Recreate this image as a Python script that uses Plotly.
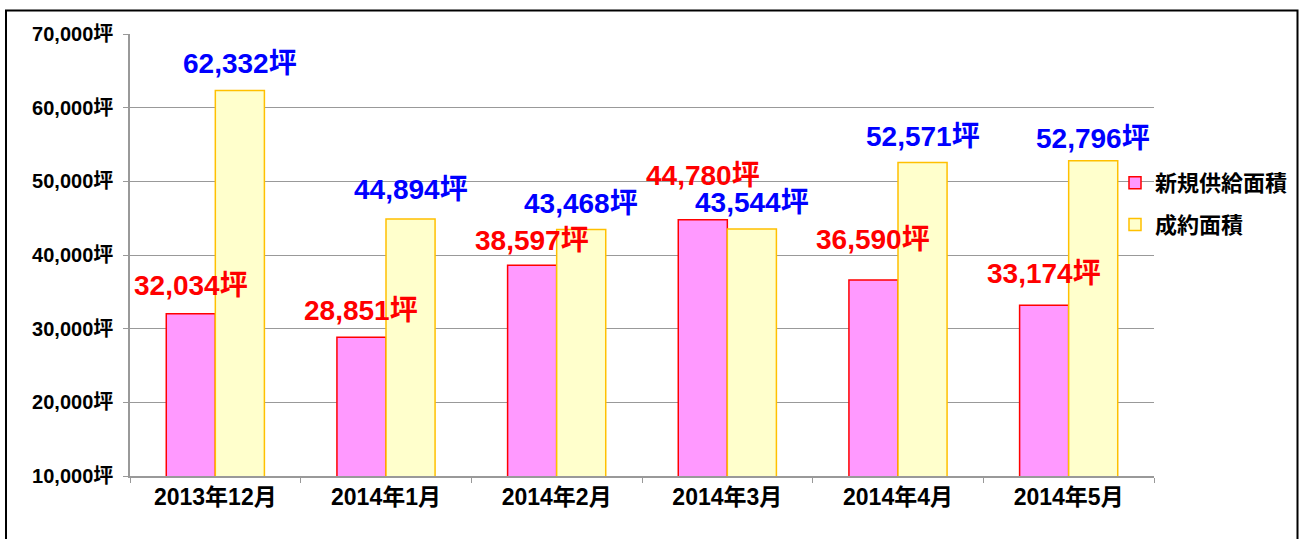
import plotly.graph_objects as go

categories = ["2013年12月", "2014年1月", "2014年2月", "2014年3月", "2014年4月", "2014年5月"]
supply_area = [32034, 28851, 38597, 44780, 36590, 33174]
contract_area = [62332, 44894, 43468, 43544, 52571, 52796]
series_names = ["新規供給面積", "成約面積"]
y_ticks = [10000, 20000, 30000, 40000, 50000, 60000, 70000]
y_tick_labels = ["10,000坪", "20,000坪", "30,000坪", "40,000坪", "50,000坪", "60,000坪", "70,000坪"]

# label lift above bar tops (pixels) – layout only
supply_label_lift = [28, 27, 25, 44, 41, 32]
contract_label_lift = [27, 29, 26, 26, 26, 22]

FONT = "Liberation Sans, Arial, Noto Sans CJK JP"

W, H = 1302, 539
L, R, T, B = 130, 1154, 34, 476
pw, ph = R - L, B - T

fig = go.Figure()
fig.add_trace(go.Bar(
    x=categories, y=supply_area, name=series_names[0], legendgroup="a",
    marker=dict(color="#FF99FF", line=dict(color="#FF0000", width=1.5)),
))
fig.add_trace(go.Bar(
    x=categories, y=contract_area, name=series_names[1], legendgroup="b",
    marker=dict(color="#FFFFCC", line=dict(color="#FFC000", width=1.5)),
))

bargap = 0.425
bar_w = (pw / len(categories)) * (1 - bargap) / 2
annotations = []
for c, v, lift in zip(categories, supply_area, supply_label_lift):
    annotations.append(dict(x=c, y=v, xref="x", yref="y", text=f"{v:,}坪", showarrow=False,
                            xshift=-bar_w / 2, yshift=lift, yanchor="middle",
                            font=dict(family=FONT, size=28, color="#FF0000", weight="bold")))
for c, v, lift in zip(categories, contract_area, contract_label_lift):
    annotations.append(dict(x=c, y=v, xref="x", yref="y", text=f"{v:,}坪", showarrow=False,
                            xshift=bar_w / 2, yshift=lift, yanchor="middle",
                            font=dict(family=FONT, size=28, color="#0000FF", weight="bold")))

fig.update_layout(
    width=W, height=H,
    margin=dict(l=L, r=W - R, t=T, b=H - B, pad=0, autoexpand=False),
    paper_bgcolor="white", plot_bgcolor="white",
    font=dict(family=FONT, size=19, color="black", weight="bold"),
    barmode="group", bargap=bargap, bargroupgap=0,
    annotations=annotations,
    showlegend=True,
    legend=dict(x=(1115 - L) / pw, y=(B - 162) / ph, xanchor="left", yanchor="top",
                bgcolor="rgba(0,0,0,0)", tracegroupgap=10,
                font=dict(family=FONT, size=22, color="black", weight="bold")),
    shapes=[dict(type="rect", xref="paper", yref="paper",
                 x0=(6 - L) / pw, x1=(1297.5 - L) / pw,
                 y0=(B - 580) / ph, y1=(B - 10.5) / ph,
                 line=dict(color="black", width=2), fillcolor="rgba(0,0,0,0)", layer="below")],
)
fig.update_yaxes(range=[10000, 70000], tickvals=y_ticks, ticktext=y_tick_labels,
                 showgrid=True, gridcolor="#999999", gridwidth=1,
                 showline=True, linecolor="#999999", linewidth=1.5,
                 ticks="outside", ticklen=5, tickcolor="#999999", ticklabelstandoff=6,
                 tickfont=dict(size=20), zeroline=False)
fig.update_xaxes(showline=True, linecolor="#999999", linewidth=1.5,
                 ticks="outside", ticklen=5, tickcolor="#999999", tickson="boundaries",
                 tickfont=dict(size=23), showgrid=False)

fig.write_html("out.html", config={"displayModeBar": False},
               post_script="document.body.style.margin='0';document.body.style.overflow='hidden';")
